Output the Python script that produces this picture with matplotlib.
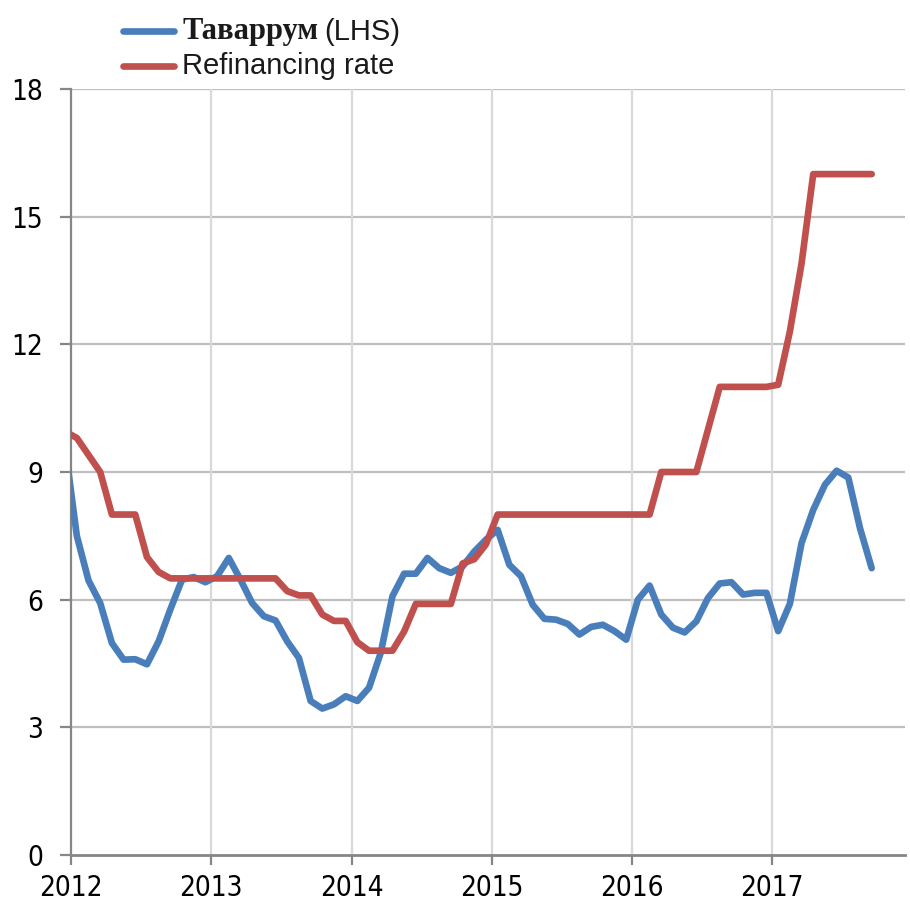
import numpy as np
import matplotlib
matplotlib.use("Agg")
import matplotlib.pyplot as plt
from matplotlib.lines import Line2D
from matplotlib.offsetbox import AnchoredOffsetbox, HPacker, VPacker, TextArea, DrawingArea

# monthly data, Dec 2011 .. Sep 2017 (first point sits left of the axis and gets clipped)
month_idx = np.arange(-1, 69)

tavarrum = [9.6,
            7.5, 6.45, 5.92, 4.98, 4.59, 4.6, 4.48, 5.02, 5.77, 6.47, 6.53, 6.41,
            6.55, 6.98, 6.47, 5.92, 5.61, 5.51, 5.02, 4.63, 3.62, 3.44, 3.54, 3.73,
            3.62, 3.93, 4.75, 6.08, 6.61, 6.61, 6.98, 6.74, 6.63, 6.78, 7.13, 7.41,
            7.64, 6.82, 6.55, 5.88, 5.55, 5.53, 5.43, 5.18, 5.36, 5.41, 5.26, 5.06,
            6.0, 6.33, 5.65, 5.34, 5.23, 5.49, 6.04, 6.38, 6.41, 6.12, 6.16, 6.16,
            5.26, 5.9, 7.33, 8.11, 8.7, 9.03, 8.87, 7.68, 6.74]

refi = [9.95,
        9.8, 9.4, 9.0, 8.0, 8.0, 8.0, 7.0, 6.65, 6.5, 6.5, 6.5, 6.5,
        6.5, 6.5, 6.5, 6.5, 6.5, 6.5, 6.2, 6.1, 6.1, 5.65, 5.5, 5.5,
        5.0, 4.8, 4.8, 4.8, 5.25, 5.9, 5.9, 5.9, 5.9, 6.85, 6.95, 7.3,
        8.0, 8.0, 8.0, 8.0, 8.0, 8.0, 8.0, 8.0, 8.0, 8.0, 8.0, 8.0,
        8.0, 8.0, 9.0, 9.0, 9.0, 9.0, 10.0, 11.0, 11.0, 11.0, 11.0, 11.0,
        11.05, 12.3, 13.9, 16.0, 16.0, 16.0, 16.0, 16.0, 16.0]

years = [2012, 2013, 2014, 2015, 2016, 2017]
yticks = [0, 3, 6, 9, 12, 15, 18]

blue = "#4A7EBB"
red = "#C0504D"
tick_font = dict(family="DejaVu Sans", stretch="condensed", fontsize=20)

x = month_idx + 0.5  # points at mid-month

fig = plt.figure(figsize=(9.10, 9.11), dpi=100)
ax = fig.add_axes([0.078, 0.0615, 0.9165, 0.8408])

ax.plot(x, tavarrum, color=blue, lw=4.8, solid_capstyle="round", solid_joinstyle="round", zorder=3)
ax.plot(x, refi, color=red, lw=4.8, solid_capstyle="round", solid_joinstyle="round", zorder=4)

ax.set_xlim(0, 71.35)
ax.set_ylim(0, 18)

year_pos = [(y - 2012) * 12 for y in years]
ax.set_xticks(year_pos)
ax.set_xticklabels([str(y) for y in years], **tick_font)
ax.set_yticks(yticks)
ax.set_yticklabels([str(v) for v in yticks], **tick_font)

# gridlines
for v in yticks[1:]:
    ax.axhline(v, color="#BFBFBF", lw=1.6, zorder=1)
for p in year_pos[1:]:
    ax.axvline(p, color="#D9D9D9", lw=1.6, zorder=1)

for s in ["top", "right"]:
    ax.spines[s].set_visible(False)
ax.spines["left"].set_color("#868686")
ax.spines["left"].set_linewidth(1.6)
ax.spines["bottom"].set_color("#868686")
ax.spines["bottom"].set_linewidth(2.0)
ax.spines["bottom"].set_zorder(5)

ax.tick_params(axis="y", direction="out", length=8, width=1.6, color="#868686", pad=12)
ax.tick_params(axis="x", direction="out", length=7, width=1.6, color="#868686", pad=7)

# legend built by hand so the first label can mix a bold serif and a plain sans
def legend_row(color, parts):
    da = DrawingArea(41, 16, 0, 0)
    da.add_artist(Line2D([2, 39], [8, 8], color=color, lw=4.8, solid_capstyle="round"))
    texts = [TextArea(t, textprops=p) for t, p in parts]
    return HPacker(children=[da] + texts, align="center", pad=0, sep=4)

sans = dict(family=["Liberation Sans", "DejaVu Sans"], size=21, color="#1a1a1a")
serif_b = dict(family=["Liberation Serif", "DejaVu Serif"], weight="bold", size=22, color="#1a1a1a")

row1 = legend_row(blue, [("Таваррум", serif_b), ("(LHS)", sans)])
row2 = legend_row(red, [("Refinancing rate", sans)])
box = VPacker(children=[row1, row2], align="left", pad=0, sep=4.5)
anch = AnchoredOffsetbox(loc="upper left", child=box, pad=0, frameon=False,
                         bbox_to_anchor=(120 / 910, 1 - 17 / 911),
                         bbox_transform=fig.transFigure, borderpad=0)
fig.add_artist(anch)

fig.savefig("out.png", dpi=100)
